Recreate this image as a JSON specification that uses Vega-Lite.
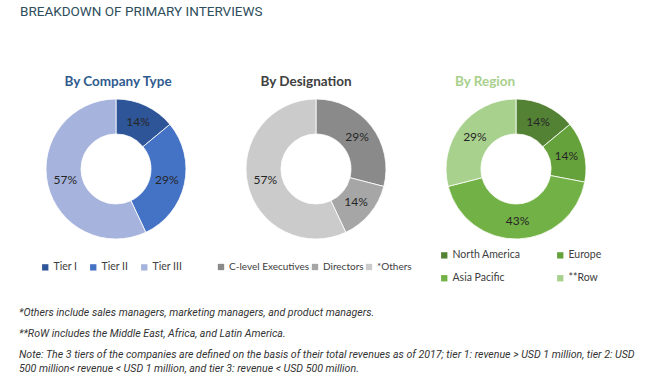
{
  "$schema": "https://vega.github.io/schema/vega-lite/v6.json",
  "background": "white",
  "padding": {"left": 16, "top": 5, "right": 0, "bottom": 0},
  "title": {
    "text": "BREAKDOWN OF PRIMARY INTERVIEWS",
    "anchor": "start",
    "font": "Roboto",
    "fontSize": 13.5,
    "fontWeight": "normal",
    "color": "#2e4e5c",
    "dx": 4,
    "offset": 56
  },
  "spacing": 21,
  "vconcat": [
    {
      "spacing": 0,
      "bounds": "flush",
      "resolve": {"scale": {"color": "independent", "theta": "independent"}},
      "hconcat": [
        {
          "width": 200,
          "height": 140,
          "title": {"text": "By Company Type", "color": "#2f5b8f", "dx": 2},
          "data": {"values": [
            {"k": "Tier I", "v": 14, "o": 1},
            {"k": "Tier II", "v": 29, "o": 2},
            {"k": "Tier III", "v": 57, "o": 3}
          ]},
          "transform": [{"calculate": "datum.v + '%'", "as": "lab"}],
          "encoding": {
            "theta": {"field": "v", "type": "quantitative", "stack": true},
            "order": {"field": "o", "type": "quantitative"},
            "color": {
              "field": "k", "type": "nominal",
              "scale": {"domain": ["Tier I", "Tier II", "Tier III"], "range": ["#2e5597", "#4472c4", "#a5b3dd"]},
              "legend": {"orient": "none", "legendX": 24, "legendY": 163, "direction": "horizontal", "columnPadding": 10}
            }
          },
          "layer": [
            {"mark": {"type": "arc", "innerRadius": 35, "outerRadius": 70, "stroke": "white", "strokeWidth": 0.8}},
            {"mark": {"type": "text", "radius": 52, "font": "Lato", "fontSize": 12},
             "encoding": {"text": {"field": "lab"}, "color": {"value": "#262626"}, "detail": {"field": "k", "type": "nominal"}}}
          ]
        },
        {
          "width": 200,
          "height": 140,
          "title": {"text": "By Designation", "color": "#404040", "dx": -10},
          "data": {"values": [
            {"k": "C-level Executives", "v": 29, "o": 1},
            {"k": "Directors", "v": 14, "o": 2},
            {"k": "*Others", "v": 57, "o": 3}
          ]},
          "transform": [{"calculate": "datum.v + '%'", "as": "lab"}],
          "encoding": {
            "theta": {"field": "v", "type": "quantitative", "stack": true},
            "order": {"field": "o", "type": "quantitative"},
            "color": {
              "field": "k", "type": "nominal",
              "scale": {"domain": ["C-level Executives", "Directors", "*Others"], "range": ["#8a8a8a", "#a6a6a6", "#cbcbcb"]},
              "legend": {"orient": "none", "legendX": 0, "legendY": 163, "direction": "horizontal", "columnPadding": 0, "labelFontSize": 10}
            }
          },
          "layer": [
            {"mark": {"type": "arc", "innerRadius": 35, "outerRadius": 70, "stroke": "white", "strokeWidth": 0.8}},
            {"mark": {"type": "text", "radius": 52, "font": "Lato", "fontSize": 12},
             "encoding": {"text": {"field": "lab"}, "color": {"value": "#262626"}, "detail": {"field": "k", "type": "nominal"}}}
          ]
        },
        {
          "width": 200,
          "height": 140,
          "title": {"text": "By Region", "color": "#a8d08d", "dx": -31},
          "data": {"values": [
            {"k": "North America", "v": 14, "o": 1},
            {"k": "Europe", "v": 14, "o": 2},
            {"k": "Asia Pacific", "v": 43, "o": 3},
            {"k": "**Row", "v": 29, "o": 4}
          ]},
          "transform": [{"calculate": "datum.v + '%'", "as": "lab"}],
          "encoding": {
            "theta": {"field": "v", "type": "quantitative", "stack": true},
            "order": {"field": "o", "type": "quantitative"},
            "color": {
              "field": "k", "type": "nominal",
              "scale": {"domain": ["North America", "Europe", "Asia Pacific", "**Row"], "range": ["#548235", "#66a23c", "#72b145", "#a9d18e"]},
              "legend": {"orient": "none", "legendX": 23, "legendY": 151, "direction": "horizontal", "columns": 2, "gridAlign": "all", "columnPadding": 34, "rowPadding": 12}
            }
          },
          "layer": [
            {"mark": {"type": "arc", "innerRadius": 35, "outerRadius": 70, "stroke": "white", "strokeWidth": 0.8}},
            {"mark": {"type": "text", "radius": 52, "font": "Lato", "fontSize": 12},
             "encoding": {"text": {"field": "lab"}, "color": {"value": "#262626"}, "detail": {"field": "k", "type": "nominal"}}}
          ]
        }
      ]
    },
    {
      "width": 630,
      "height": 64,
      "data": {"values": [
        {"n": 1, "t": "*Others include sales managers, marketing managers, and product managers."},
        {"n": 2, "t": "**RoW includes the Middle East, Africa, and Latin America."},
        {"n": 3, "t": "Note: The 3 tiers of the companies are defined on the basis of their total revenues as of 2017; tier 1: revenue > USD 1 million, tier 2: USD\n500 million< revenue < USD 1 million, and tier 3: revenue < USD 500 million."}
      ]},
      "mark": {"type": "text", "align": "left", "baseline": "alphabetic", "font": "Roboto", "fontSize": 10.6, "fontStyle": "italic", "color": "#333333", "lineBreak": "\n", "lineHeight": 14, "x": 0, "dx": 3},
      "encoding": {
        "y": {"field": "n", "type": "ordinal", "axis": null, "scale": {"type": "point", "padding": 0.5}},
        "text": {"field": "t"}
      }
    }
  ],
  "config": {
    "view": {"stroke": null},
    "title": {"font": "Lato", "fontSize": 13.5, "fontWeight": "bold", "offset": 9},
    "legend": {
      "title": null,
      "symbolType": "square",
      "symbolSize": 40,
      "symbolStrokeWidth": 0,
      "labelFont": "Lato",
      "labelFontSize": 10.5,
      "labelColor": "#404040",
      "labelOffset": 3,
      "padding": 0
    }
  }
}
